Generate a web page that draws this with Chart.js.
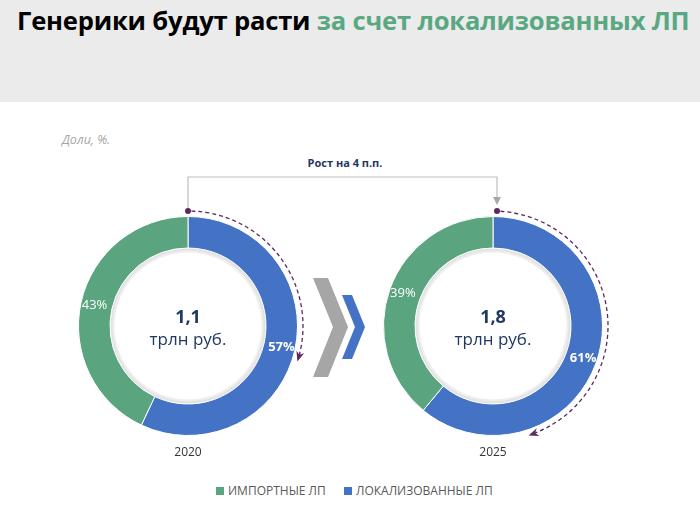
<!DOCTYPE html>
<html><head><meta charset="utf-8">
<script src="https://cdn.jsdelivr.net/npm/chart.js@4.4.1/dist/chart.umd.min.js"></script>
<style>
body{margin:0;width:700px;height:517px;background:#fff;position:relative;overflow:hidden;font-family:'Open Sans',sans-serif;}
#hdr{position:absolute;left:0;top:0;width:700px;height:102px;background:#ebebeb;}
#title{position:absolute;left:17px;top:3px;font-weight:700;font-size:25.6px;white-space:nowrap;color:#000;letter-spacing:-0.2px;}
#title span{color:#5aa882;}
#unit{position:absolute;left:62px;top:131px;font-style:italic;font-size:12.5px;color:#a6a6a6;}
#grow{position:absolute;left:245px;width:200px;top:155px;text-align:center;font-weight:700;font-size:11px;color:#1f3864;}
svg{position:absolute;left:0;top:0;}
.cv{position:absolute;width:260px;height:260px;}
#c1{left:58px;top:196px;}
#c2{left:363px;top:196px;}
.yr{position:absolute;width:100px;text-align:center;font-size:12px;color:#333;top:443px;}
#legend{position:absolute;top:482px;left:0;width:700px;font-size:12px;color:#595959;}
#legend .it{position:absolute;white-space:nowrap;}
#legend .sq{display:inline-block;width:8px;height:8px;margin-right:4px;vertical-align:0px;}
</style></head>
<body>
<div id="hdr"></div>
<div id="title">Генерики будут расти <span>за счет локализованных ЛП</span></div>
<div id="unit">Доли, %.</div>
<div id="grow">Рост на 4 п.п.</div>
<svg width="700" height="517">
  <polyline points="188,212 188,177 497,177 497,198" fill="none" stroke="#bfbfbf" stroke-width="1.2"/>
  <polygon points="493,197 501,197 497,205" fill="#a6a6a6"/>
  <polygon points="313,278 328,278 348,327 328,377 313,377 333,327" fill="#a6a6a6"/>
  <polygon points="342,295 352,295 365,327 352,359 342,359 355,327" fill="#4472c4"/>
</svg>
<canvas id="c1" class="cv" width="260" height="260"></canvas>
<canvas id="c2" class="cv" width="260" height="260"></canvas>
<div class="yr" style="left:138px">2020</div>
<div class="yr" style="left:443px">2025</div>
<div id="legend"></div>
<script>
const categories = ['ЛОКАЛИЗОВАННЫЕ ЛП', 'ИМПОРТНЫЕ ЛП'];
const years = ['2020', '2025'];
const localShare = [57, 61];
const importShare = [43, 39];
const marketSize = ['1,1', '1,8'];
const marketUnit = 'трлн руб.';
const colors = ['#4472c4', '#5aa47f'];

// legend (import first, as in reference)
const lg = document.getElementById('legend');
const legendItems = [[1, 216], [0, 344]];
legendItems.forEach(([i, left]) => {
  const d = document.createElement('div');
  d.className = 'it';
  d.style.left = left + 'px';
  d.innerHTML = '<span class="sq" style="background:' + colors[i] + '"></span>' + categories[i];
  lg.appendChild(d);
});

const donutPlugin = {
  id: 'donutDeco',
  beforeDatasetsDraw(chart) {
    const arc = chart.getDatasetMeta(0).data[0];
    const {x, y, innerRadius} = arc.getProps(['x', 'y', 'innerRadius'], true);
    const ctx = chart.ctx;
    ctx.save();
    ctx.beginPath(); ctx.arc(x, y, innerRadius, 0, Math.PI * 2); ctx.fillStyle = '#e3e3e3'; ctx.fill();
    ctx.beginPath(); ctx.arc(x, y, innerRadius - 2.5, 0, Math.PI * 2); ctx.fillStyle = '#eeeeee'; ctx.fill();
    ctx.beginPath(); ctx.arc(x, y, innerRadius - 4.5, 0, Math.PI * 2); ctx.fillStyle = '#ffffff'; ctx.fill();
    ctx.restore();
  },
  afterDatasetsDraw(chart, args, opts) {
    const ctx = chart.ctx;
    const meta = chart.getDatasetMeta(0);
    const ds = chart.data.datasets[0];
    let cx, cy, outer;
    meta.data.forEach((arc, i) => {
      const p = arc.getProps(['x', 'y', 'startAngle', 'endAngle', 'innerRadius', 'outerRadius'], true);
      cx = p.x; cy = p.y; outer = p.outerRadius;
      const mid = (p.startAngle + p.endAngle) / 2;
      const r = (p.innerRadius + p.outerRadius) / 2 + 2;
      ctx.save();
      ctx.fillStyle = '#ffffff';
      ctx.font = (i === 0 ? '700 ' : '400 ') + '13px "Open Sans"';
      ctx.textAlign = 'center'; ctx.textBaseline = 'middle';
      ctx.fillText(ds.data[i] + '%', cx + r * Math.cos(mid), cy + r * Math.sin(mid));
      ctx.restore();
    });
    // center text
    ctx.save();
    ctx.fillStyle = '#1f3864';
    ctx.textAlign = 'center'; ctx.textBaseline = 'middle';
    ctx.font = '700 18px "Open Sans"';
    ctx.fillText(opts.size, cx, cy - 8);
    ctx.font = '400 17px "Open Sans"';
    ctx.fillText(marketUnit, cx, cy + 14);
    ctx.restore();
    // dashed arc with arrow
    const R = outer + 5.5;
    const a0 = -Math.PI / 2 + opts.dotDeg * Math.PI / 180;
    const a1 = -Math.PI / 2 + opts.arrowDeg * Math.PI / 180;
    ctx.save();
    ctx.strokeStyle = '#5b2a5e'; ctx.fillStyle = '#5b2a5e';
    ctx.lineWidth = 1.3;
    ctx.setLineDash([4, 3]);
    ctx.beginPath(); ctx.arc(cx, cy, R, a0 + 0.03, a1 - 0.02); ctx.stroke();
    ctx.setLineDash([]);
    ctx.beginPath(); ctx.arc(cx + R * Math.cos(a0), cy + R * Math.sin(a0), 3, 0, Math.PI * 2); ctx.fill();
    // arrowhead
    const ex = cx + R * Math.cos(a1), ey = cy + R * Math.sin(a1);
    const dir = a1 + Math.PI / 2; // tangent, clockwise
    const tx = Math.cos(dir), ty = Math.sin(dir);
    const nx = -ty, ny = tx;
    const L = 8, W = 4;
    ctx.beginPath();
    ctx.moveTo(ex + tx * 2, ey + ty * 2);
    ctx.lineTo(ex - tx * L + nx * W, ey - ty * L + ny * W);
    ctx.lineTo(ex - tx * (L - 3), ey - ty * (L - 3));
    ctx.lineTo(ex - tx * L - nx * W, ey - ty * L - ny * W);
    ctx.closePath(); ctx.fill();
    ctx.restore();
  }
};

function makeDonut(id, idx, dotDeg, arrowDeg) {
  return new Chart(document.getElementById(id), {
    type: 'doughnut',
    data: {
      labels: categories,
      datasets: [{
        data: [localShare[idx], importShare[idx]],
        backgroundColor: colors,
        borderColor: '#ffffff',
        borderWidth: 1
      }]
    },
    options: {
      responsive: false,
      animation: false,
      cutout: 78,
      layout: {padding: 20},
      plugins: {
        legend: {display: false},
        tooltip: {enabled: false},
        donutDeco: {size: marketSize[idx], dotDeg: dotDeg, arrowDeg: arrowDeg}
      }
    },
    plugins: [donutPlugin]
  });
}
makeDonut('c1', 0, 0, 107);
makeDonut('c2', 1, 2, 161);
</script>
</body></html>
